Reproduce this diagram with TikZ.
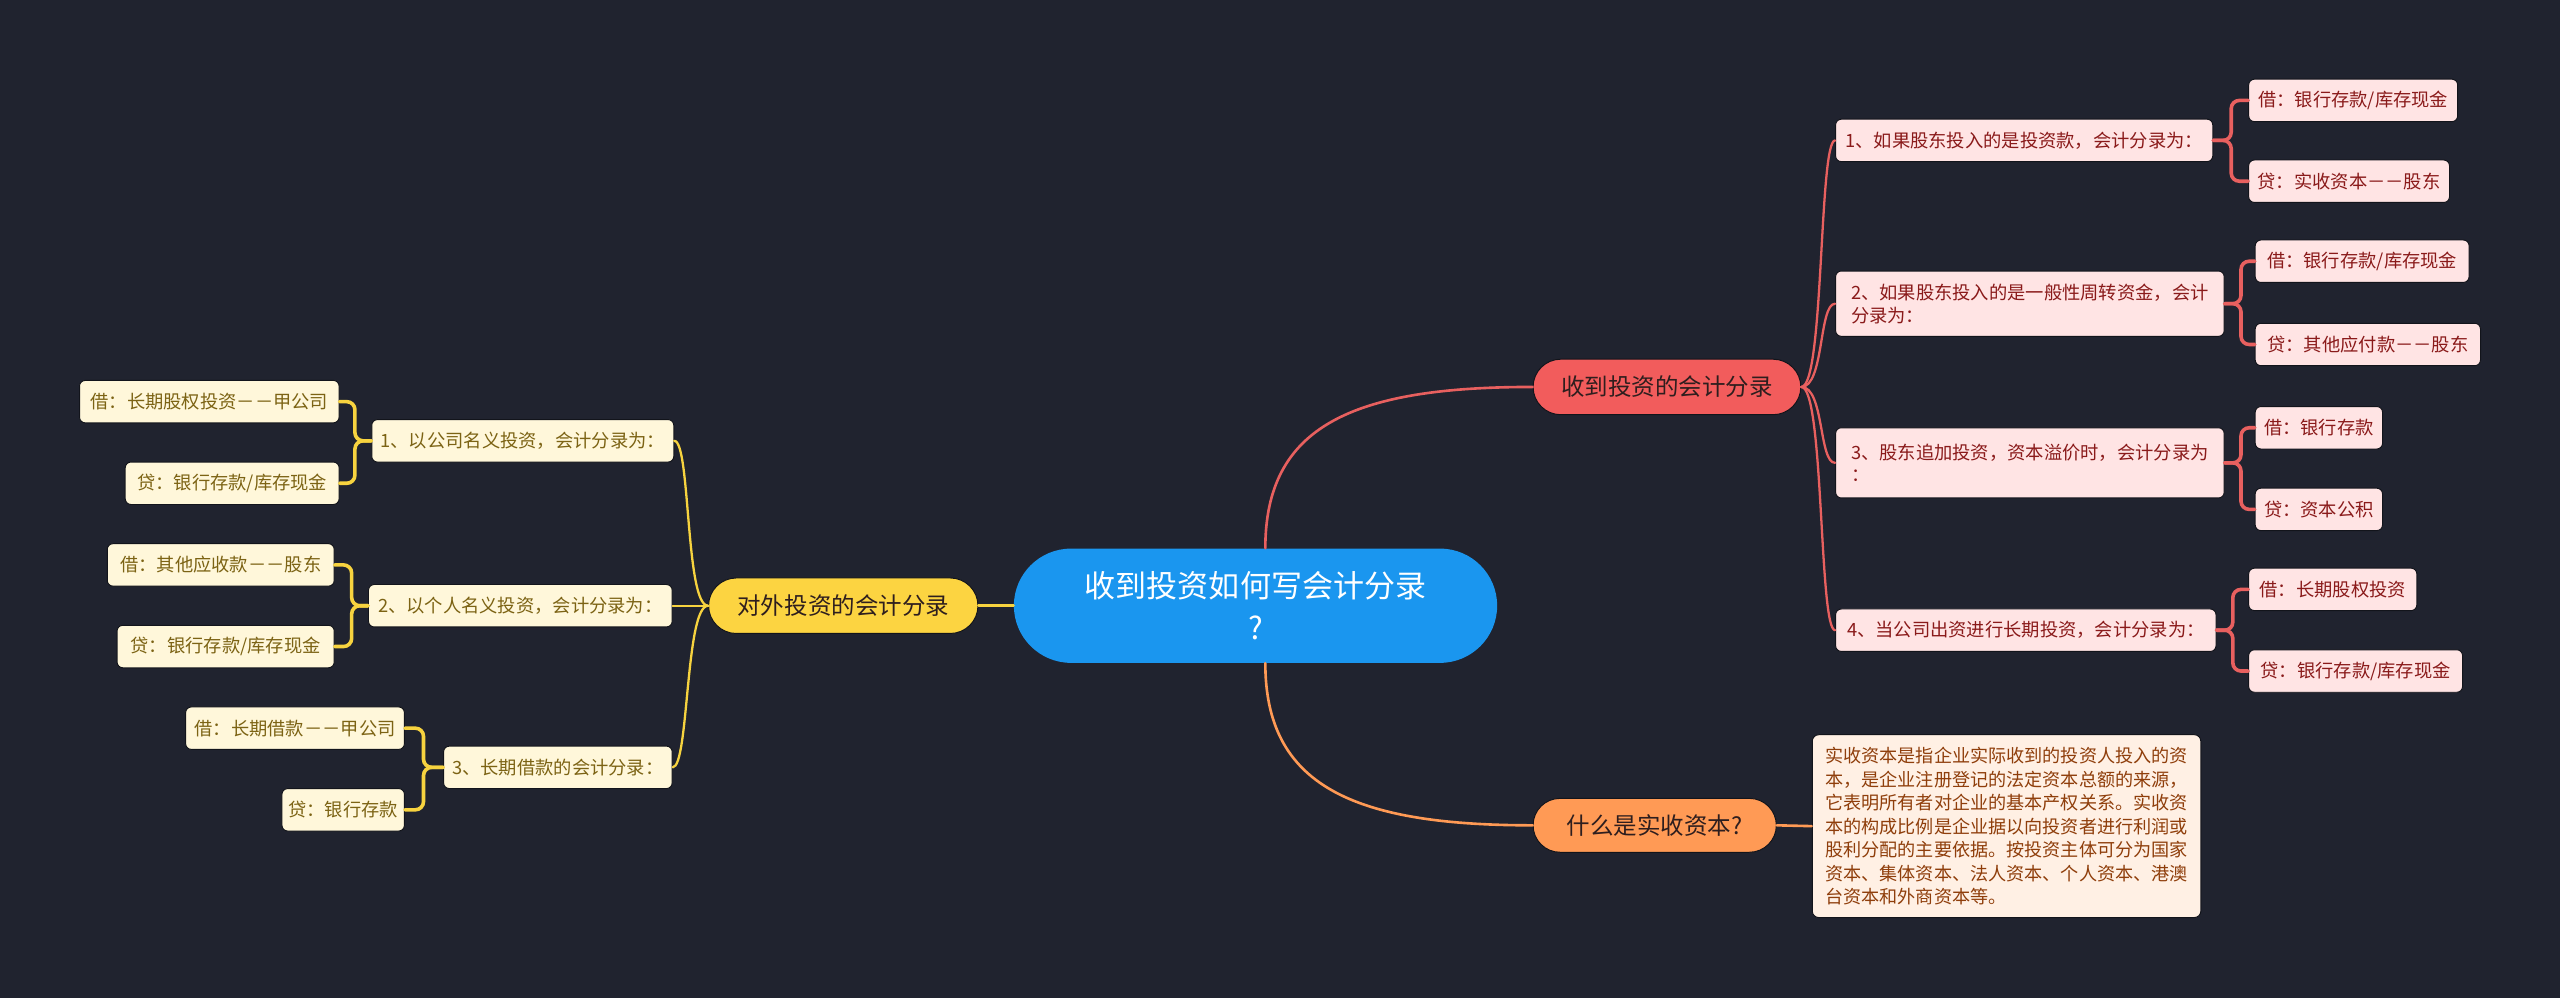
\documentclass[tikz,border=0pt]{standalone}
\usepackage{fontspec}
\newfontfamily\cjk{Noto Sans CJK SC}
\definecolor{bg}{HTML}{20232F}
\definecolor{cblue}{HTML}{1A96EF}
\definecolor{rmain}{HTML}{F25C5C}
\definecolor{rline}{HTML}{E8605F}
\definecolor{rleaf}{HTML}{FFE4E4}
\definecolor{rtext}{HTML}{8A1A1A}
\definecolor{ymain}{HTML}{FCD441}
\definecolor{yline}{HTML}{F7D33F}
\definecolor{yleaf}{HTML}{FFF7DA}
\definecolor{ytext}{HTML}{7C6314}
\definecolor{omain}{HTML}{FF9A55}
\definecolor{oline}{HTML}{FF9A55}
\definecolor{oleaf}{HTML}{FFF0E4}
\definecolor{otext}{HTML}{8F3E0B}
\definecolor{dtext}{HTML}{2E1E1E}
\definecolor{edgec}{HTML}{12141B}
\begin{document}
\begin{tikzpicture}[x=1pt,y=-1pt,
  every node/.style={inner sep=0pt},
  leaf/.style={rounded corners=3.5pt, draw=edgec, line width=0.6pt,
    font=\cjk\fontsize{11.2}{14}\selectfont, minimum height=26pt, align=left},
  leafR/.style={leaf, fill=rleaf, text=rtext},
  leafY/.style={leaf, fill=yleaf, text=ytext},
  mainnode/.style={rounded corners=17pt, draw=edgec, line width=0.6pt,
    font=\cjk\fontsize{14.4}{17}\selectfont, text=dtext, minimum height=34pt},
  rcurve/.style={draw=rline, line width=1.4pt, line cap=round},
  relbow/.style={draw=rline, line width=2.2pt, rounded corners=5pt, line cap=round},
  ycurve/.style={draw=yline, line width=1.4pt, line cap=round},
  yelbow/.style={draw=yline, line width=2.2pt, rounded corners=5pt, line cap=round},
  ocurve/.style={draw=oline, line width=1.6pt, line cap=round}
]
\fill[bg] (0,0) rectangle (1568,611);
\useasboundingbox (0,0) rectangle (1568,611);

% central
\node[fill=cblue, rounded corners=35pt, minimum width=296pt, minimum height=70pt,
  text=white, font=\cjk\fontsize{19}{25.7}\selectfont, align=center]
  (c) at (769,371) {收到投资如何写会计分录\\?};

% main branches
\node[mainnode, fill=rmain, minimum width=164pt] (red) at (1021,237) {收到投资的会计分录};
\node[mainnode, fill=ymain, minimum width=165pt] (yel) at (516.5,371) {对外投资的会计分录};
\node[mainnode, fill=omain, minimum width=149pt, minimum height=33pt, rounded corners=16.5pt] (org) at (1013.5,505.5) {什么是实收资本?};

% orange leaf
\node[rounded corners=4pt, draw=edgec, line width=0.6pt, fill=oleaf, text=otext,
  font=\cjk\fontsize{11.1}{14.4}\selectfont, align=left, minimum width=238pt,
  minimum height=112pt] (ol) at (1229,506)
  {实收资本是指企业实际收到的投资人投入的资\\本，是企业注册登记的法定资本总额的来源，\\它表明所有者对企业的基本产权关系。实收资\\本的构成比例是企业据以向投资者进行利润或\\股利分配的主要依据。按投资主体可分为国家\\资本、集体资本、法人资本、个人资本、港澳\\台资本和外商资本等。};

% red level 2
\node[leafR, anchor=west, minimum width=231pt] (r1) at (1124,86) {1、如果股东投入的是投资款，会计分录为：};
\node[leafR, anchor=west, minimum width=238pt, minimum height=40pt] (r2) at (1124,186) {2、如果股东投入的是一般性周转资金，会计\\分录为：};
\node[leafR, anchor=west, minimum width=238pt, minimum height=43pt] (r3) at (1124,283.5) {3、股东追加投资，资本溢价时，会计分录为\\：};
\node[leafR, anchor=west, minimum width=233pt] (r4) at (1124,386) {4、当公司出资进行长期投资，会计分录为：};

% red level 3
\node[leafR, anchor=west, minimum width=128pt] (r1a) at (1377,61.5) {借：银行存款/库存现金};
\node[leafR, anchor=west, minimum width=123pt] (r1b) at (1377,111) {贷：实收资本－－股东};
\node[leafR, anchor=west, minimum width=131pt] (r2a) at (1381,160) {借：银行存款/库存现金};
\node[leafR, anchor=west, minimum width=138pt] (r2b) at (1381,211) {贷：其他应付款－－股东};
\node[leafR, anchor=west, minimum width=78pt] (r3a) at (1381,262) {借：银行存款};
\node[leafR, anchor=west, minimum width=78pt] (r3b) at (1381,312) {贷：资本公积};
\node[leafR, anchor=west, minimum width=103pt] (r4a) at (1377,361) {借：长期股权投资};
\node[leafR, anchor=west, minimum width=131pt] (r4b) at (1377,411) {贷：银行存款/库存现金};

% yellow level 2
\node[leafY, anchor=east, minimum width=185pt] (y1) at (413,270) {1、以公司名义投资，会计分录为：};
\node[leafY, anchor=east, minimum width=186pt] (y2) at (412,371) {2、以个人名义投资，会计分录为：};
\node[leafY, anchor=east, minimum width=140pt] (y3) at (412,470) {3、长期借款的会计分录：};

% yellow level 3
\node[leafY, anchor=east, minimum width=159pt] (y1a) at (208,246) {借：长期股权投资－－甲公司};
\node[leafY, anchor=east, minimum width=131pt] (y1b) at (208,296) {贷：银行存款/库存现金};
\node[leafY, anchor=east, minimum width=139pt] (y2a) at (205,346) {借：其他应收款－－股东};
\node[leafY, anchor=east, minimum width=133pt] (y2b) at (205,396) {贷：银行存款/库存现金};
\node[leafY, anchor=east, minimum width=134pt] (y3a) at (248,446) {借：长期借款－－甲公司};
\node[leafY, anchor=east, minimum width=75pt] (y3b) at (248,496) {贷：银行存款};

% connectors from central
\begin{scope}[on background layer/.style={}]
\end{scope}
\draw[rcurve, line width=1.6pt] ([xshift=6pt]c.north) .. controls +(0,-75) and +(-110,0) .. (red.west);
\draw[ocurve] ([xshift=6pt]c.south) .. controls +(0,75) and +(-110,0) .. (org.west);
\draw[ycurve, line width=1.6pt] (c.west) -- (yel.east);
\draw[ocurve] (org.east) -- (ol.west);

% red level 1 -> 2
\foreach \n in {r1,r2,r3,r4}
  \draw[rcurve] (red.east) .. controls +(14,0) and +(-10,0) .. (\n.west);
% red level 2 -> 3
\draw[relbow] (r1.east) -- ++(11,0) |- (r1a.west);
\draw[relbow] (r1.east) -- ++(11,0) |- (r1b.west);
\draw[relbow] (r2.east) -- ++(10,0) |- (r2a.west);
\draw[relbow] (r2.east) -- ++(10,0) |- (r2b.west);
\draw[relbow] (r3.east) -- ++(10,0) |- (r3a.west);
\draw[relbow] (r3.east) -- ++(10,0) |- (r3b.west);
\draw[relbow] (r4.east) -- ++(10,0) |- (r4a.west);
\draw[relbow] (r4.east) -- ++(10,0) |- (r4b.west);

% yellow level 1 -> 2
\foreach \n in {y1,y2,y3}
  \draw[ycurve] (yel.west) .. controls +(-14,0) and +(10,0) .. (\n.east);
% yellow level 2 -> 3
\draw[yelbow] (y1.west) -- ++(-10,0) |- (y1a.east);
\draw[yelbow] (y1.west) -- ++(-10,0) |- (y1b.east);
\draw[yelbow] (y2.west) -- ++(-10,0) |- (y2a.east);
\draw[yelbow] (y2.west) -- ++(-10,0) |- (y2b.east);
\draw[yelbow] (y3.west) -- ++(-12,0) |- (y3a.east);
\draw[yelbow] (y3.west) -- ++(-12,0) |- (y3b.east);
\end{tikzpicture}
\end{document}
